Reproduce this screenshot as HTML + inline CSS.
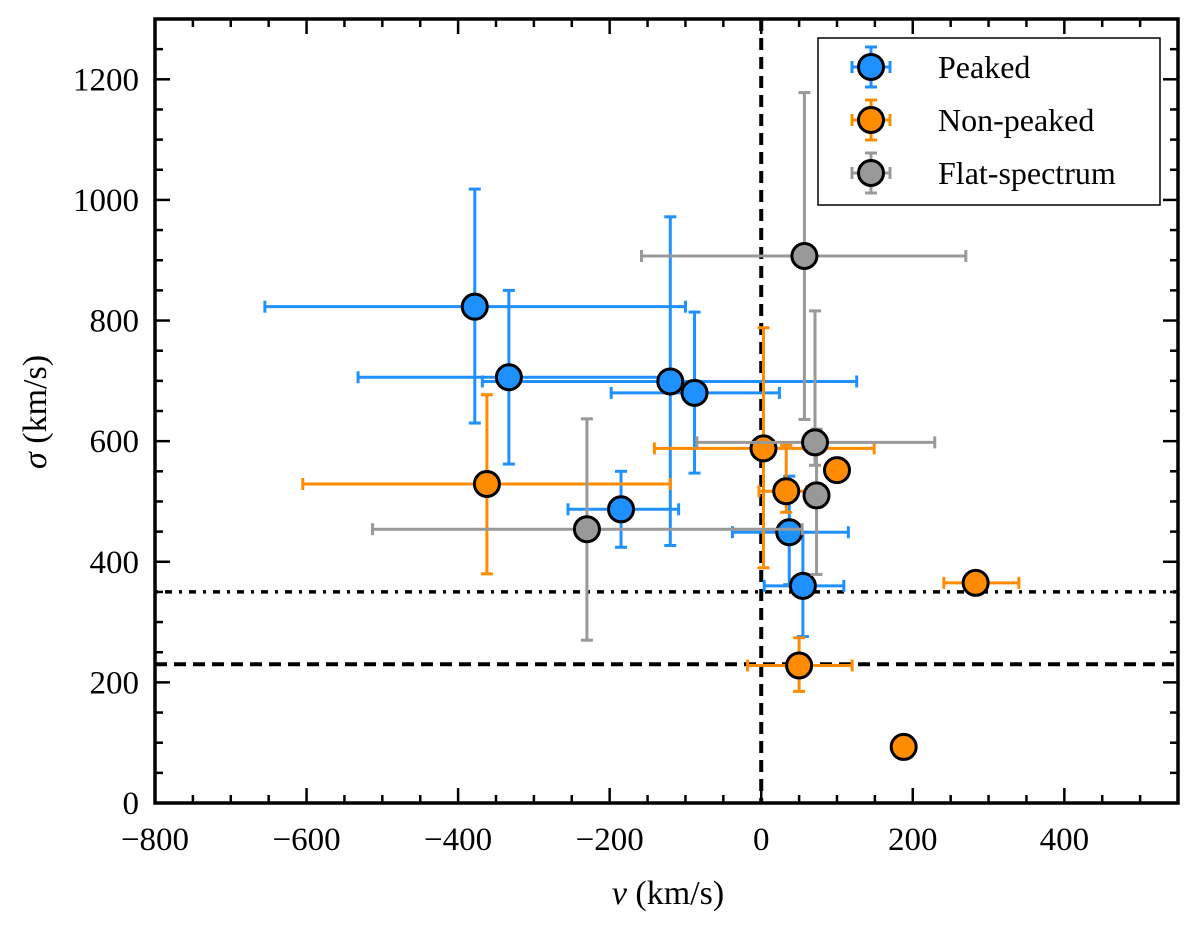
<!DOCTYPE html>
<html><head><meta charset="utf-8"><style>
body{margin:0;background:#fff}
svg text{font-family:"Liberation Serif",serif;fill:#000}
</style></head><body>
<svg id="chart" width="1200" height="922" xmlns="http://www.w3.org/2000/svg"></svg>
<script>
const peakedV=[-378,-333,-120,-88,-185,37,55];
const peakedS=[823,706,699,680,487,449,360];
const peakedVlo=[-655,-532,-368,-198,-255,-38,4];
const peakedVhi=[-100,-130,126,24,-109,115,109];
const peakedSlo=[630,562,427,547,424,362,276];
const peakedShi=[1018,850,972,814,550,542,449];
const nonV=[-362,3,33,100,283,50,188];
const nonS=[529,588,517,552,365,228,93];
const nonVlo=[-605,-141,-3,null,241,-18,null];
const nonVhi=[-120,149,60,null,340,120,null];
const nonSlo=[380,390,482,null,null,185,null];
const nonShi=[677,788,593,null,null,274,null];
const flatV=[57,71,73,-230];
const flatS=[907,598,510,454];
const flatVlo=[-158,-85,null,-513];
const flatVhi=[270,229,null,54];
const flatSlo=[636,560,379,270];
const flatShi=[1178,816,620,637];
const xTicks=[-800,-600,-400,-200,0,200,400];
const yTicks=[0,200,400,600,800,1000,1200];

const L=155,R=1178,T=19,B=803;
const X=v=>L+(v+800)*(R-L)/1350;
const Y=s=>B-s*(B-T)/1300;
const svg=document.getElementById('chart');
const NS='http://www.w3.org/2000/svg';
function mk(tag,attrs,parent){const e=document.createElementNS(NS,tag);for(const k in attrs)e.setAttribute(k,attrs[k]);(parent||svg).appendChild(e);return e;}

let e;
e=mk('line',{x1:X(0),x2:X(0),y1:T,y2:B,stroke:'#000','stroke-width':4,'stroke-dasharray':'12,7'});


e=mk('line',{x1:L,x2:R,y1:Y(230),y2:Y(230),stroke:'#000','stroke-width':4,'stroke-dasharray':'12,7'});


e=mk('line',{x1:L,x2:R,y1:Y(350),y2:Y(350),stroke:'#000','stroke-width':3.5,'stroke-dasharray':'3,7,7,7'});



function series(name,color,V,S,Vlo,Vhi,Slo,Shi){
  const g=mk('g',{});
  
  
  for(let i=0;i<V.length;i++){
    const cx=X(V[i]),cy=Y(S[i]);
    if(Vlo[i]!==null){
      mk('line',{x1:X(Vlo[i]),x2:X(Vhi[i]),y1:cy,y2:cy,stroke:color,'stroke-width':3},g);
      mk('line',{x1:X(Vlo[i]),x2:X(Vlo[i]),y1:cy-6,y2:cy+6,stroke:color,'stroke-width':3},g);
      mk('line',{x1:X(Vhi[i]),x2:X(Vhi[i]),y1:cy-6,y2:cy+6,stroke:color,'stroke-width':3},g);
    }
    if(Slo[i]!==null){
      mk('line',{x1:cx,x2:cx,y1:Y(Slo[i]),y2:Y(Shi[i]),stroke:color,'stroke-width':3},g);
      mk('line',{x1:cx-6,x2:cx+6,y1:Y(Slo[i]),y2:Y(Slo[i]),stroke:color,'stroke-width':3},g);
      mk('line',{x1:cx-6,x2:cx+6,y1:Y(Shi[i]),y2:Y(Shi[i]),stroke:color,'stroke-width':3},g);
    }
  }
  for(let i=0;i<V.length;i++){
    const c=mk('circle',{cx:X(V[i]),cy:Y(S[i]),r:12.5,fill:color,stroke:'#000','stroke-width':3},g);
    
    
  }
}
series('peaked','#1e90ff',peakedV,peakedS,peakedVlo,peakedVhi,peakedSlo,peakedShi);
series('non-peaked','#ff8c00',nonV,nonS,nonVlo,nonVhi,nonSlo,nonShi);
series('flat-spectrum','#999999',flatV,flatS,flatVlo,flatVhi,flatSlo,flatShi);

e=mk('rect',{x:L,y:T,width:R-L,height:B-T,fill:'none',stroke:'#000','stroke-width':3.5});


for(let v=-800;v<=550;v+=50){
  const major=v%200===0,len=major?15:8,x=X(v);
  mk('line',{x1:x,x2:x,y1:B,y2:B-len,stroke:'#000','stroke-width':2.5});
  mk('line',{x1:x,x2:x,y1:T,y2:T+len,stroke:'#000','stroke-width':2.5});
}
for(let s=0;s<=1300;s+=50){
  const major=s%200===0,len=major?15:8,y=Y(s);
  mk('line',{x1:L,x2:L+len,y1:y,y2:y,stroke:'#000','stroke-width':2.5});
  mk('line',{x1:R,x2:R-len,y1:y,y2:y,stroke:'#000','stroke-width':2.5});
}
xTicks.forEach(v=>{
  const t=mk('text',{x:X(v),y:B+47,'font-size':33,'text-anchor':'middle'});
  t.textContent=(v<0?'\u2212':'')+Math.abs(v);
  
  
});
yTicks.forEach(s=>{
  const t=mk('text',{x:L-16,y:Y(s)+11,'font-size':33,'text-anchor':'end'});
  t.textContent=s;
  
  
});
e=mk('text',{x:668,y:904,'font-size':34,'text-anchor':'middle'});
e.innerHTML='<tspan font-style="italic">v</tspan> (km/s)';


e=mk('text',{x:0,y:0,'font-size':34,'text-anchor':'middle',transform:'translate(46,412) rotate(-90)'});
e.innerHTML='<tspan font-style="italic">σ</tspan> (km/s)';



const lg=mk('g',{});


mk('rect',{x:818,y:38,width:342,height:167,fill:'#fff',stroke:'#000','stroke-width':1.5},lg);
[['Peaked','#1e90ff',67],['Non-peaked','#ff8c00',120],['Flat-spectrum','#999999',173]].forEach(([lab,col,y])=>{
  const g=mk('g',{},lg);
  
  
  mk('line',{x1:852,x2:890,y1:y,y2:y,stroke:col,'stroke-width':3},g);
  mk('line',{x1:871,x2:871,y1:y-20,y2:y+20,stroke:col,'stroke-width':3},g);
  [852,890].forEach(x=>mk('line',{x1:x,x2:x,y1:y-6,y2:y+6,stroke:col,'stroke-width':3},g));
  [y-20,y+20].forEach(yy=>mk('line',{x1:865,x2:877,y1:yy,y2:yy,stroke:col,'stroke-width':3},g));
  mk('circle',{cx:871,cy:y,r:12.5,fill:col,stroke:'#000','stroke-width':3},g);
  const t=mk('text',{x:938,y:y+11,'font-size':32},g);
  t.textContent=lab;
});
</script>
</body></html>
